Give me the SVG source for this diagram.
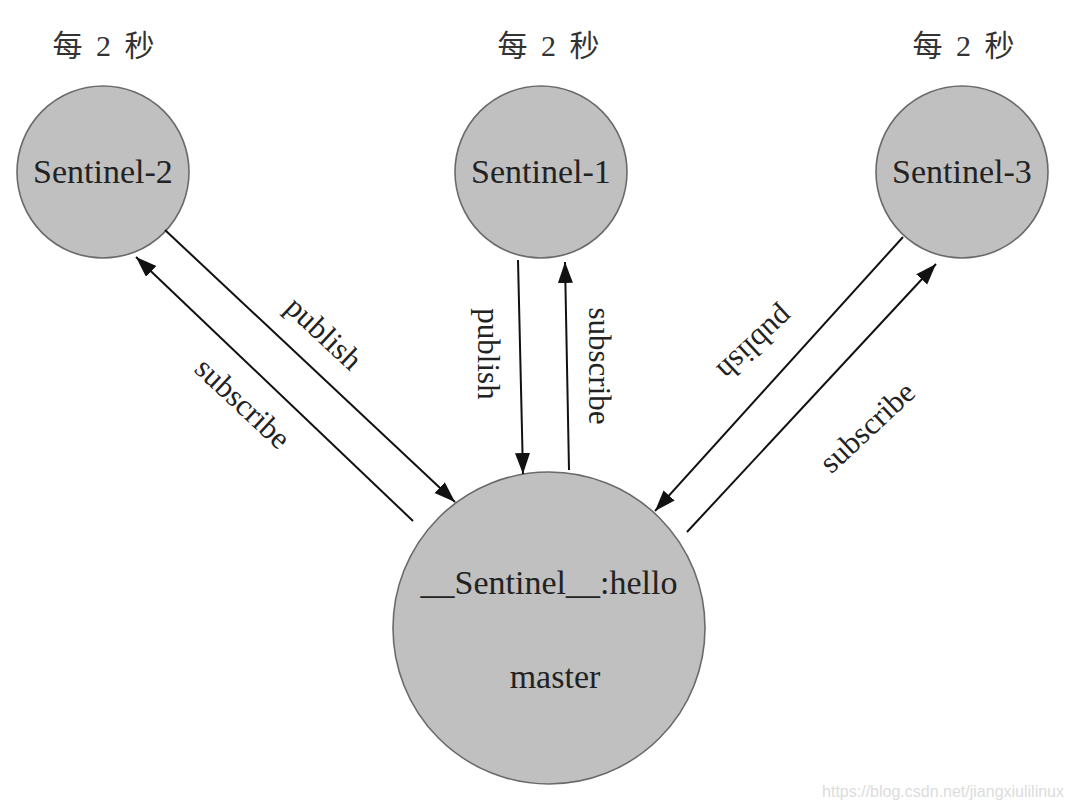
<svg xmlns="http://www.w3.org/2000/svg" width="1076" height="812" viewBox="0 0 1076 812">
<defs>
<marker id="ah" markerUnits="userSpaceOnUse" markerWidth="24" markerHeight="16" refX="21" refY="7.5" orient="auto">
<path d="M0,0 L21,7.5 L0,15 z" fill="#111"/>
</marker>
<style>
.node{fill:#c0c0c0;stroke:#6a6a6a;stroke-width:1.6}
.nt{font-family:"Liberation Serif",serif;font-size:34px;fill:#222;text-anchor:middle}
.cjk{font-family:"Liberation Serif","Noto Sans CJK SC",serif;font-size:30px;fill:#333;text-anchor:middle;letter-spacing:3px}
.lbl{font-family:"Liberation Serif",serif;font-size:31px;fill:#222;text-anchor:middle;dominant-baseline:central}
.edge{stroke:#111;stroke-width:2;fill:none;marker-end:url(#ah)}
.wm{font-family:"Liberation Sans",sans-serif;font-size:16px;fill:#dcdcdc;text-anchor:end}
</style>
</defs>
<rect width="1076" height="812" fill="#fff"/>
<text class="cjk" x="105" y="56">每 2 秒</text>
<text class="cjk" x="550" y="56">每 2 秒</text>
<text class="cjk" x="965" y="56">每 2 秒</text>
<g id="sentinel2">
<circle class="node" cx="103" cy="172" r="86"/>
<text class="nt" x="103" y="183">Sentinel-2</text>
</g>
<g id="sentinel1">
<circle class="node" cx="541" cy="172" r="86"/>
<text class="nt" x="541" y="183">Sentinel-1</text>
</g>
<g id="sentinel3">
<circle class="node" cx="962" cy="172" r="86"/>
<text class="nt" x="962" y="183">Sentinel-3</text>
</g>
<g id="master">
<circle class="node" cx="549" cy="628" r="156"/>
<text class="nt" x="549" y="594">__Sentinel__:hello</text>
<text class="nt" x="555" y="688">master</text>
</g>
<g id="connectors">
<line class="edge" x1="165" y1="230" x2="455" y2="502"/>
<line class="edge" x1="413" y1="521" x2="136" y2="257"/>
<line class="edge" x1="518" y1="260" x2="523" y2="474"/>
<line class="edge" x1="569" y1="470" x2="565" y2="262"/>
<line class="edge" x1="903" y1="237" x2="655" y2="511"/>
<line class="edge" x1="687" y1="532" x2="936" y2="264"/>
<text class="lbl" transform="translate(324,333) rotate(43)">publish</text>
<text class="lbl" transform="translate(243,403) rotate(43)">subscribe</text>
<text class="lbl" transform="translate(488,354) rotate(90)">publish</text>
<text class="lbl" transform="translate(599,366) rotate(90)">subscribe</text>
<text class="lbl" transform="translate(756,344) rotate(137)">publish</text>
<text class="lbl" transform="translate(867,427) rotate(-43)">subscribe</text>
</g>
<text class="wm" x="1064" y="797">https://blog.csdn.net/jiangxiulilinux</text>
</svg>
